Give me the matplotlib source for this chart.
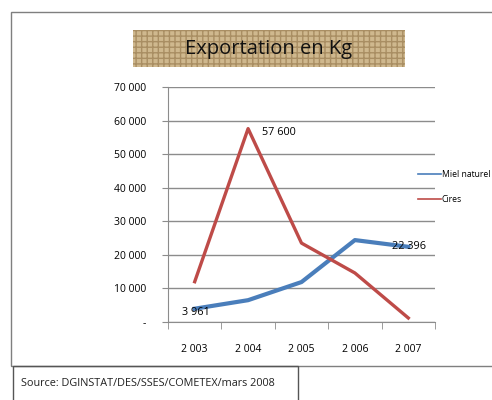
import matplotlib.pyplot as plt
import matplotlib.patches as mpatches
from matplotlib.lines import Line2D
import numpy as np
from matplotlib.ticker import FuncFormatter, FixedLocator

# ── DATA ───────────────────────────────────────────────────
years = ["2 003", "2 004", "2 005", "2 006", "2 007"]
miel = [3961, 6500, 11900, 24400, 22396]
cires = [12000, 57600, 23500, 14600, 1200]

BLUE = "#4a7ebb"
RED = "#be4b48"
GRID = "#8c8c8c"
FONT = ["Open Sans", "DejaVu Sans"]

plt.rcParams["font.family"] = FONT

fig = plt.figure(figsize=(4.92, 4.0), dpi=100)
fig.patch.set_facecolor("white")

# outer frame and source box (figure coords)
fig.add_artist(mpatches.Rectangle((11 / 492, 1 - 366 / 400), 1, 354 / 400,
                                  transform=fig.transFigure, fill=False,
                                  edgecolor="#7f7f7f", linewidth=1.0))
fig.add_artist(mpatches.Rectangle((13 / 492, -0.05), 285 / 492, 34 / 400 + 0.05,
                                  transform=fig.transFigure, fill=False,
                                  edgecolor="#555555", linewidth=1.0))
fig.text(21 / 492, 1 - 384 / 400, "Source: DGINSTAT/DES/SSES/COMETEX/mars 2008",
         fontsize=7.8, va="center", ha="left", color="#222222")

# title on burlap-like box
fig.add_artist(mpatches.Rectangle((133 / 492, 1 - 67 / 400), 272 / 492, 37 / 400,
                                  transform=fig.transFigure, facecolor="#cfb88e",
                                  edgecolor="#a98e63", hatch="+++", linewidth=0))
fig.text(269 / 492, 1 - 49 / 400, "Exportation en Kg", fontsize=14.5,
         ha="center", va="center", color="#111111")

ax = fig.add_axes([168 / 492, 1 - 322 / 400, 267 / 492, 235 / 400])
x = np.arange(len(years))
ax.plot(x, miel, color=BLUE, linewidth=3)
ax.plot(x, cires, color=RED, linewidth=2.4)

ax.set_xlim(-0.5, len(years) - 0.5)
ax.set_ylim(0, 70000)
ax.set_yticks(np.arange(0, 70001, 10000))
ax.yaxis.set_major_formatter(FuncFormatter(
    lambda v, p: "-" if v == 0 else f"{int(v):,}".replace(",", " ")))
ax.set_xticks(x)
ax.set_xticklabels(years)
ax.xaxis.set_minor_locator(FixedLocator(np.arange(-0.5, len(years), 1.0)))
ax.tick_params(axis="x", which="major", length=0, pad=16, labelsize=7.5)
ax.tick_params(axis="x", which="minor", length=5, color=GRID, direction="out")
ax.tick_params(axis="y", length=4, color=GRID, labelsize=7.5, pad=12)
ax.grid(axis="y", color=GRID, linewidth=1)
ax.set_axisbelow(True)
for s in ["top", "right"]:
    ax.spines[s].set_visible(False)
ax.spines["left"].set_color(GRID)
ax.spines["bottom"].set_color(GRID)

ax.annotate("57 600", (x[1], cires[1]), xytext=(10, -3), textcoords="offset points",
            fontsize=7.8, va="center")
ax.annotate("3 961", (x[0], miel[0]), xytext=(-9, -3), textcoords="offset points",
            fontsize=7.8, va="center")
ax.annotate("22 396", (x[4], miel[4]), xytext=(-12, 0), textcoords="offset points",
            fontsize=7.8, va="center")

handles = [Line2D([], [], color=BLUE, linewidth=1.2, label="Miel naturel"),
           Line2D([], [], color=RED, linewidth=1.2, label="Cires")]
fig.legend(handles=handles, loc="upper left", bbox_to_anchor=(418 / 492, 1 - 170 / 400),
           frameon=False, fontsize=6.2, handlelength=2.7, handletextpad=0.05,
           labelspacing=1.9, borderpad=0, borderaxespad=0)

fig.savefig("out.png", dpi=100)
